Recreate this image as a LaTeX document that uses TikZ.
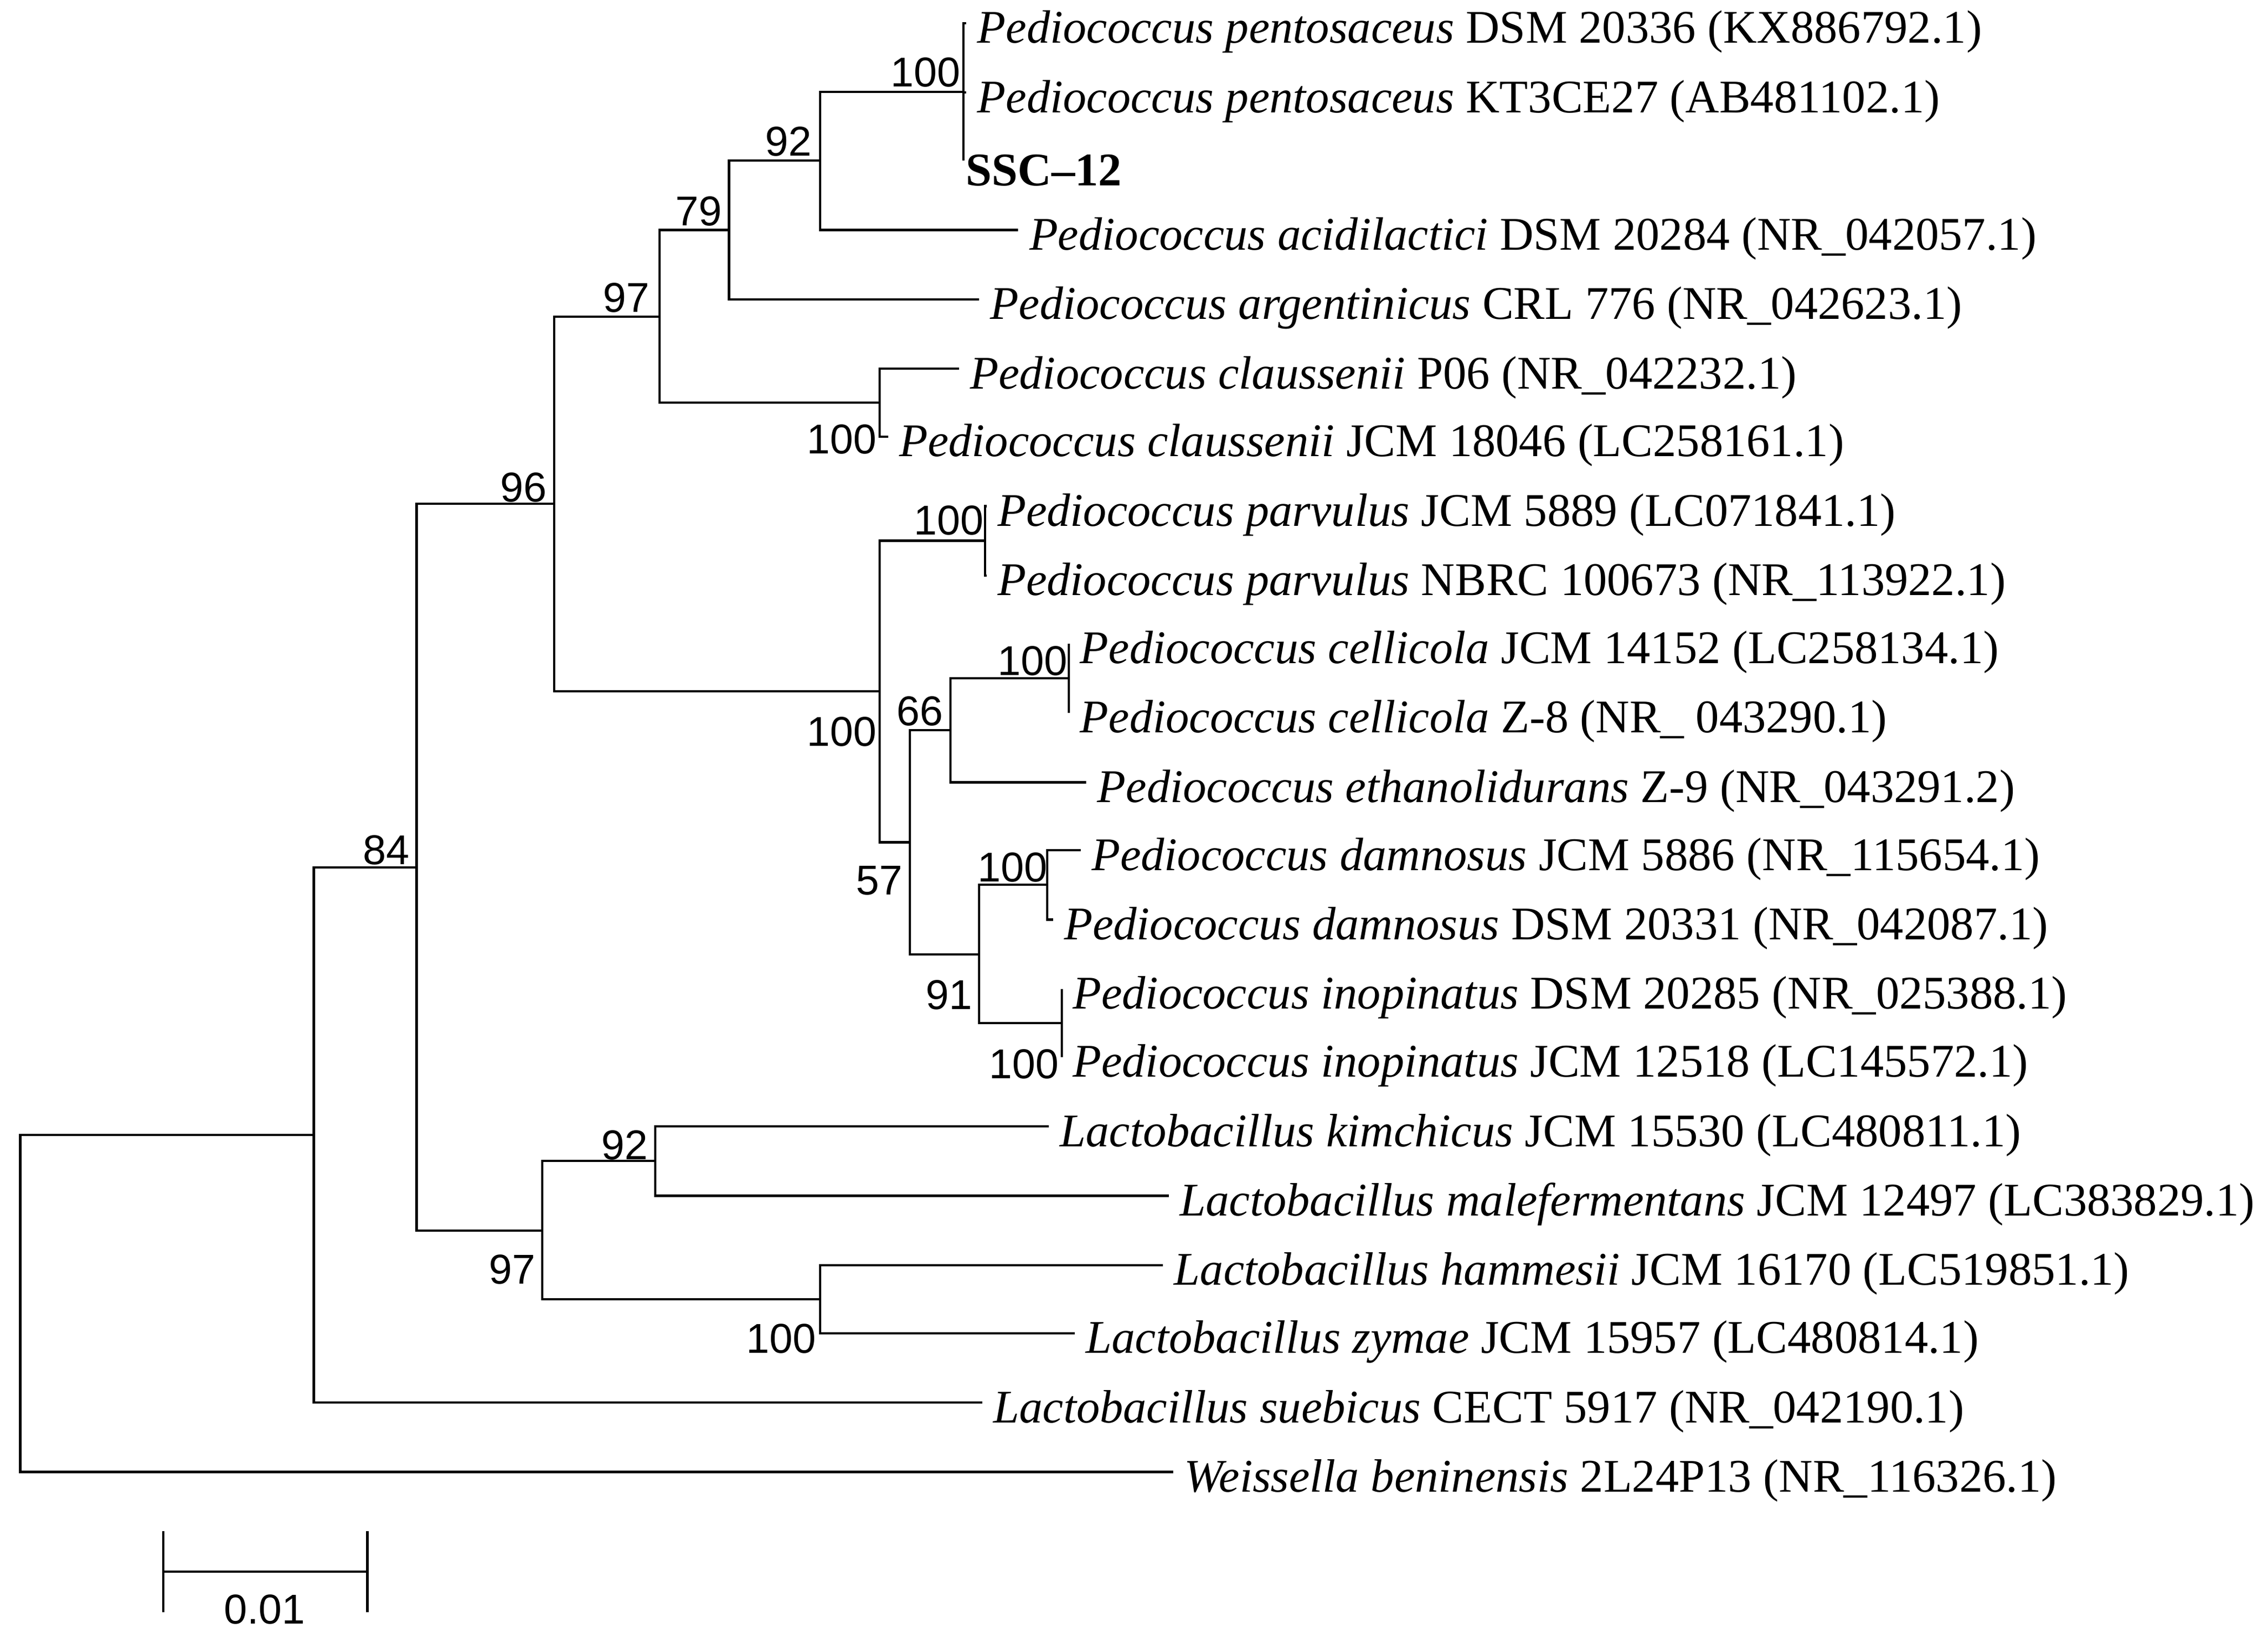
\documentclass[tikz,border=0pt]{standalone}
\usepackage{fontspec}
\setmainfont{Liberation Serif}
\newfontfamily\bsfont{Liberation Sans}
\begin{document}
\begin{tikzpicture}[x=0.01cm,y=-0.01cm,
  br/.style={line width=0.45pt},
  leaf/.style={anchor=west,inner sep=0pt,font=\fontsize{9.2}{10}\selectfont},
  bs/.style={inner sep=0pt,font=\bsfont\fontsize{8.2}{9}\selectfont}]
\useasboundingbox (0,0) rectangle (1568,1136);
% leaf coordinates (end x, line y)
\coordinate (l0) at (668,16);
\coordinate (l1) at (668,64);
\coordinate (l2) at (666,111);
\coordinate (l3) at (704,159);
\coordinate (l4) at (677,207);
\coordinate (l5) at (663,255);
\coordinate (l6) at (614,302);
\coordinate (l7) at (682,350);
\coordinate (l8) at (682,398);
\coordinate (l9) at (739,445);
\coordinate (l10) at (739,493);
\coordinate (l11) at (751,541);
\coordinate (l12) at (747,588);
\coordinate (l13) at (728,636);
\coordinate (l14) at (734,684);
\coordinate (l15) at (734,731);
\coordinate (l16) at (725,779);
\coordinate (l17) at (808,827);
\coordinate (l18) at (804,875);
\coordinate (l19) at (743,922);
\coordinate (l20) at (679,970);
\coordinate (l21) at (811,1018);
% internal nodes
\coordinate (nA) at (666,63.5);
\coordinate (nB) at (567,111);
\coordinate (nC) at (504,159);
\coordinate (nCl) at (608,278.5);
\coordinate (nD) at (456,219);
\coordinate (nParv) at (681,374);
\coordinate (nCell) at (739,469);
\coordinate (nCE) at (657,505);
\coordinate (nDam) at (724,612);
\coordinate (nIno) at (734,707.5);
\coordinate (nDI) at (677,660);
\coordinate (nG) at (629,582.5);
\coordinate (nF) at (608,478);
\coordinate (nE) at (383,348.5);
\coordinate (nKim) at (453,803);
\coordinate (nHam) at (567,898.5);
\coordinate (nH) at (375,851);
\coordinate (nI) at (288,600);
\coordinate (nJ) at (217,785);
\coordinate (nR) at (14,901.5);
% branches
\draw[br] (l0) -| (nA) |- (l2); \draw[br] (nA) |- (l1);
\draw[br] (nA) -| (nB) |- (l3);
\draw[br] (nB) -| (nC) |- (l4);
\draw[br] (l5) -| (nCl) |- (l6);
\draw[br] (nC) -| (nD) |- (nCl);
\draw[br] (l7) -| (nParv) |- (l8);
\draw[br] (l9) -| (nCell) |- (l10);
\draw[br] (nCell) -| (nCE) |- (l11);
\draw[br] (l12) -| (nDam) |- (l13);
\draw[br] (l14) -| (nIno) |- (l15);
\draw[br] (nDam) -| (nDI) |- (nIno);
\draw[br] (nCE) -| (nG) |- (nDI);
\draw[br] (nParv) -| (nF) |- (nG);
\draw[br] (nD) -| (nE) |- (nF);
\draw[br] (l16) -| (nKim) |- (l17);
\draw[br] (l18) -| (nHam) |- (l19);
\draw[br] (nKim) -| (nH) |- (nHam);
\draw[br] (nE) -| (nI) |- (nH);
\draw[br] (nI) -| (nJ) |- (l20);
\draw[br] (nJ) -| (nR) |- (l21);
% leaf labels
\node[leaf] (t0) at ([shift={(7,6)}]l0) {\textit{Pediococcus pentosaceus} DSM 20336 (KX886792.1)};
\node[leaf] (t1) at ([shift={(7,6)}]l1) {\textit{Pediococcus pentosaceus} KT3CE27 (AB481102.1)};
\node[leaf] (t2) at ([shift={(1,7)}]l2) {\textbf{SSC–12}};
\node[leaf] (t3) at ([shift={(7,6)}]l3) {\textit{Pediococcus acidilactici} DSM 20284 (NR\_042057.1)};
\node[leaf] (t4) at ([shift={(7,6)}]l4) {\textit{Pediococcus argentinicus} CRL 776 (NR\_042623.1)};
\node[leaf] (t5) at ([shift={(7,6)}]l5) {\textit{Pediococcus claussenii} P06 (NR\_042232.1)};
\node[leaf] (t6) at ([shift={(7,6)}]l6) {\textit{Pediococcus claussenii} JCM 18046 (LC258161.1)};
\node[leaf] (t7) at ([shift={(7,6)}]l7) {\textit{Pediococcus parvulus} JCM 5889 (LC071841.1)};
\node[leaf] (t8) at ([shift={(7,6)}]l8) {\textit{Pediococcus parvulus} NBRC 100673 (NR\_113922.1)};
\node[leaf] (t9) at ([shift={(7,6)}]l9) {\textit{Pediococcus cellicola} JCM 14152 (LC258134.1)};
\node[leaf] (t10) at ([shift={(7,6)}]l10) {\textit{Pediococcus cellicola} Z-8 (NR\_ 043290.1)};
\node[leaf] (t11) at ([shift={(7,6)}]l11) {\textit{Pediococcus ethanolidurans} Z-9 (NR\_043291.2)};
\node[leaf] (t12) at ([shift={(7,6)}]l12) {\textit{Pediococcus damnosus} JCM 5886 (NR\_115654.1)};
\node[leaf] (t13) at ([shift={(7,6)}]l13) {\textit{Pediococcus damnosus} DSM 20331 (NR\_042087.1)};
\node[leaf] (t14) at ([shift={(7,6)}]l14) {\textit{Pediococcus inopinatus} DSM 20285 (NR\_025388.1)};
\node[leaf] (t15) at ([shift={(7,6)}]l15) {\textit{Pediococcus inopinatus} JCM 12518 (LC145572.1)};
\node[leaf] (t16) at ([shift={(7,6)}]l16) {\textit{Lactobacillus kimchicus} JCM 15530 (LC480811.1)};
\node[leaf] (t17) at ([shift={(7,6)}]l17) {\textit{Lactobacillus malefermentans} JCM 12497 (LC383829.1)};
\node[leaf] (t18) at ([shift={(7,6)}]l18) {\textit{Lactobacillus hammesii} JCM 16170 (LC519851.1)};
\node[leaf] (t19) at ([shift={(7,6)}]l19) {\textit{Lactobacillus zymae} JCM 15957 (LC480814.1)};
\node[leaf] (t20) at ([shift={(7,6)}]l20) {\textit{Lactobacillus suebicus} CECT 5917 (NR\_042190.1)};
\node[leaf] (t21) at ([shift={(7,6)}]l21) {\textit{Weissella beninensis} 2L24P13 (NR\_116326.1)};
% bootstrap values
\node[bs] (bA) at (640,50) {100};
\node[bs] (bB) at (545,98) {92};
\node[bs] (bC) at (483,146) {79};
\node[bs] (bD) at (433,206) {97};
\node[bs] (bCl) at (582,304) {100};
\node[bs] (bE) at (362,337) {96};
\node[bs] (bParv) at (656,360) {100};
\node[bs] (bF) at (582,506) {100};
\node[bs] (bCell) at (714,457) {100};
\node[bs] (bCE) at (636,492) {66};
\node[bs] (bG) at (608,609) {57};
\node[bs] (bDam) at (700,600) {100};
\node[bs] (bDI) at (656,688) {91};
\node[bs] (bIno) at (708,736) {100};
\node[bs] (bI) at (267,588) {84};
\node[bs] (bKim) at (432,792) {92};
\node[bs] (bH) at (354,878) {97};
\node[bs] (bHam) at (540,926) {100};
% scale bar
\coordinate (s0) at (113,1087);
\coordinate (s1) at (254,1087);
\draw[br] (s0) -- (s1);
\draw[br] ([yshift=-8]s0) -- ([yshift=8]s0);
\draw[br] ([yshift=-8]s1) -- ([yshift=8]s1);
\node[bs] (sl) at (183,1113) {0.01};
\end{tikzpicture}
\end{document}
